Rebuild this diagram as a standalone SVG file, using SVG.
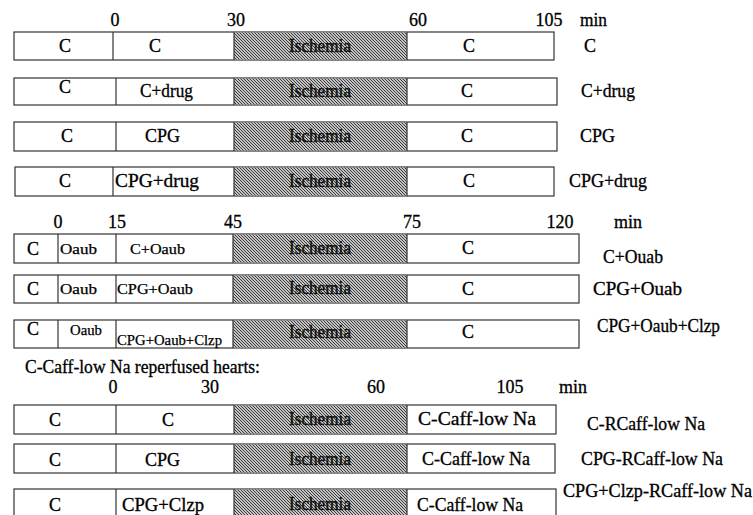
<svg xmlns="http://www.w3.org/2000/svg" width="753" height="515" viewBox="0 0 753 515">
<defs>
<pattern id="hatch" patternUnits="userSpaceOnUse" width="3" height="3">
<rect width="3" height="3" fill="#c4c4c4"/>
<path d="M0,0 L3,3 M-1,2 L1,4 M2,-1 L4,1" stroke="#2a2a2a" stroke-width="0.9"/>
</pattern>
<style>
.t{font-family:"Liberation Serif","Times New Roman",serif;font-size:18px;fill:#000;stroke:#000;stroke-width:0.3}
.s{font-family:"Liberation Serif","Times New Roman",serif;font-size:14.5px;fill:#000;stroke:#000;stroke-width:0.25}
.m{text-anchor:middle}
.box{fill:#fff;stroke:#333;stroke-width:1.2}
.isc{fill:url(#hatch);stroke:none}
.dv{stroke:#333;stroke-width:1.2}
.ii{font-family:"Liberation Serif","Times New Roman",serif;font-size:18px;fill:#111;stroke:#111;stroke-width:0.5;text-anchor:middle}
</style>
</defs>
<rect width="753" height="515" fill="#fff"/>

<g id="axis-1">
<text class="t m" x="115" y="26">0</text>
<text class="t m" x="236" y="26">30</text>
<text class="t m" x="418" y="26">60</text>
<text class="t m" x="549" y="26">105</text>
<text class="t" x="580" y="26" textLength="27" lengthAdjust="spacingAndGlyphs">min</text>
</g>

<g id="row-C">
<rect class="box" x="14" y="32" width="540" height="28"/>
<rect class="isc" x="234" y="32.6" width="173" height="26.8"/>
<line class="dv" x1="113" y1="32" x2="113" y2="60"/>
<line class="dv" x1="234" y1="32" x2="234" y2="60"/>
<line class="dv" x1="407" y1="32" x2="407" y2="60"/>
<text class="t m" x="65" y="52">C</text>
<text class="t m" x="155" y="52">C</text>
<text class="ii" x="320" y="52" textLength="62" lengthAdjust="spacingAndGlyphs">Ischemia</text>
<text class="t m" x="469" y="52">C</text>
<text class="t m" x="590" y="52">C</text>
</g>

<g id="row-C-drug">
<rect class="box" x="14" y="78" width="543" height="27"/>
<rect class="isc" x="234" y="78.6" width="173" height="25.8"/>
<line class="dv" x1="116" y1="78" x2="116" y2="105"/>
<line class="dv" x1="234" y1="78" x2="234" y2="105"/>
<line class="dv" x1="407" y1="78" x2="407" y2="105"/>
<text class="t m" x="65" y="93">C</text>
<text class="t" x="140" y="97" textLength="53" lengthAdjust="spacingAndGlyphs">C+drug</text>
<text class="ii" x="320" y="97" textLength="62" lengthAdjust="spacingAndGlyphs">Ischemia</text>
<text class="t m" x="467" y="97">C</text>
<text class="t" x="581" y="97" textLength="54" lengthAdjust="spacingAndGlyphs">C+drug</text>
</g>

<g id="row-CPG">
<rect class="box" x="14" y="122" width="543" height="29"/>
<rect class="isc" x="234" y="122.6" width="173" height="27.8"/>
<line class="dv" x1="116" y1="122" x2="116" y2="151"/>
<line class="dv" x1="234" y1="122" x2="234" y2="151"/>
<line class="dv" x1="407" y1="122" x2="407" y2="151"/>
<text class="t m" x="67" y="142">C</text>
<text class="t" x="145" y="142" textLength="35" lengthAdjust="spacingAndGlyphs">CPG</text>
<text class="ii" x="320" y="142" textLength="62" lengthAdjust="spacingAndGlyphs">Ischemia</text>
<text class="t m" x="467" y="142">C</text>
<text class="t" x="580" y="142" textLength="35" lengthAdjust="spacingAndGlyphs">CPG</text>
</g>

<g id="row-CPG-drug">
<rect class="box" x="15" y="167" width="539" height="29"/>
<rect class="isc" x="234" y="167.6" width="173" height="27.8"/>
<line class="dv" x1="113" y1="167" x2="113" y2="196"/>
<line class="dv" x1="234" y1="167" x2="234" y2="196"/>
<line class="dv" x1="407" y1="167" x2="407" y2="196"/>
<text class="t m" x="65" y="187">C</text>
<text class="t" x="115" y="187" textLength="84" lengthAdjust="spacingAndGlyphs">CPG+drug</text>
<text class="ii" x="320" y="187" textLength="62" lengthAdjust="spacingAndGlyphs">Ischemia</text>
<text class="t m" x="469" y="187">C</text>
<text class="t" x="569" y="187" textLength="78" lengthAdjust="spacingAndGlyphs">CPG+drug</text>
</g>

<g id="axis-2">
<text class="t m" x="58" y="228">0</text>
<text class="t m" x="117" y="228">15</text>
<text class="t m" x="233" y="228">45</text>
<text class="t m" x="412" y="228">75</text>
<text class="t m" x="560" y="228">120</text>
<text class="t m" x="628" y="228">min</text>
</g>

<g id="row-C-Ouab">
<rect class="box" x="14" y="234" width="565" height="29"/>
<rect class="isc" x="233" y="234.6" width="174" height="27.8"/>
<line class="dv" x1="58" y1="234" x2="58" y2="263"/>
<line class="dv" x1="116" y1="234" x2="116" y2="263"/>
<line class="dv" x1="233" y1="234" x2="233" y2="263"/>
<line class="dv" x1="407" y1="234" x2="407" y2="263"/>
<text class="t m" x="33" y="255">C</text>
<text class="s" x="60" y="254" textLength="37" lengthAdjust="spacingAndGlyphs">Oaub</text>
<text class="s" x="130" y="254" textLength="55" lengthAdjust="spacingAndGlyphs">C+Oaub</text>
<text class="ii" x="320" y="254" textLength="62" lengthAdjust="spacingAndGlyphs">Ischemia</text>
<text class="t m" x="468" y="254">C</text>
<text class="t" x="603" y="263" textLength="60" lengthAdjust="spacingAndGlyphs">C+Ouab</text>
</g>

<g id="row-CPG-Ouab">
<rect class="box" x="14" y="275" width="565" height="28"/>
<rect class="isc" x="233" y="275.6" width="174" height="26.8"/>
<line class="dv" x1="58" y1="275" x2="58" y2="303"/>
<line class="dv" x1="116" y1="275" x2="116" y2="303"/>
<line class="dv" x1="233" y1="275" x2="233" y2="303"/>
<line class="dv" x1="407" y1="275" x2="407" y2="303"/>
<text class="t m" x="33" y="295">C</text>
<text class="s" x="60" y="294" textLength="37" lengthAdjust="spacingAndGlyphs">Oaub</text>
<text class="s" x="117" y="294" textLength="76" lengthAdjust="spacingAndGlyphs">CPG+Oaub</text>
<text class="ii" x="320" y="294" textLength="62" lengthAdjust="spacingAndGlyphs">Ischemia</text>
<text class="t m" x="468" y="295">C</text>
<text class="t" x="593" y="295" textLength="89" lengthAdjust="spacingAndGlyphs">CPG+Ouab</text>
</g>

<g id="row-CPG-Ouab-Clzp">
<rect class="box" x="14" y="320" width="565" height="28"/>
<rect class="isc" x="233" y="320.6" width="174" height="26.8"/>
<line class="dv" x1="58" y1="320" x2="58" y2="348"/>
<line class="dv" x1="116" y1="320" x2="116" y2="348"/>
<line class="dv" x1="233" y1="320" x2="233" y2="348"/>
<line class="dv" x1="407" y1="320" x2="407" y2="348"/>
<text class="t m" x="33" y="335">C</text>
<text class="s" x="70" y="335" textLength="32" lengthAdjust="spacingAndGlyphs">Oaub</text>
<text class="s" x="117" y="345" textLength="105" lengthAdjust="spacingAndGlyphs">CPG+Oaub+Clzp</text>
<text class="ii" x="320" y="338" textLength="62" lengthAdjust="spacingAndGlyphs">Ischemia</text>
<text class="t m" x="468" y="338">C</text>
<text class="t" x="597" y="332" textLength="123" lengthAdjust="spacingAndGlyphs">CPG+Oaub+Clzp</text>
</g>

<g id="title-3">
<text class="t" x="25" y="373" textLength="235" lengthAdjust="spacingAndGlyphs">C-Caff-low Na reperfused hearts:</text>
</g>

<g id="axis-3">
<text class="t m" x="113" y="393">0</text>
<text class="t m" x="210" y="393">30</text>
<text class="t m" x="376" y="393">60</text>
<text class="t m" x="510" y="393">105</text>
<text class="t m" x="573" y="393">min</text>
</g>

<g id="row-C-RCaff">
<rect class="box" x="14" y="405" width="542" height="29"/>
<rect class="isc" x="234" y="405.6" width="173" height="27.8"/>
<line class="dv" x1="116" y1="405" x2="116" y2="434"/>
<line class="dv" x1="234" y1="405" x2="234" y2="434"/>
<line class="dv" x1="407" y1="405" x2="407" y2="434"/>
<text class="t m" x="55" y="426">C</text>
<text class="t m" x="168" y="426">C</text>
<text class="ii" x="320" y="425" textLength="62" lengthAdjust="spacingAndGlyphs">Ischemia</text>
<text class="t" x="418" y="425" textLength="118" lengthAdjust="spacingAndGlyphs">C-Caff-low Na</text>
<text class="t" x="587" y="430" textLength="118" lengthAdjust="spacingAndGlyphs">C-RCaff-low Na</text>
</g>

<g id="row-CPG-RCaff">
<rect class="box" x="14" y="444" width="541" height="29"/>
<rect class="isc" x="234" y="444.6" width="173" height="27.8"/>
<line class="dv" x1="116" y1="444" x2="116" y2="473"/>
<line class="dv" x1="234" y1="444" x2="234" y2="473"/>
<line class="dv" x1="407" y1="444" x2="407" y2="473"/>
<text class="t m" x="55" y="466">C</text>
<text class="t" x="145" y="466" textLength="35" lengthAdjust="spacingAndGlyphs">CPG</text>
<text class="ii" x="320" y="465" textLength="62" lengthAdjust="spacingAndGlyphs">Ischemia</text>
<text class="t" x="422" y="465" textLength="108" lengthAdjust="spacingAndGlyphs">C-Caff-low Na</text>
<text class="t" x="581" y="465" textLength="142" lengthAdjust="spacingAndGlyphs">CPG-RCaff-low Na</text>
</g>

<g id="row-CPG-Clzp-RCaff">
<rect class="box" x="14" y="489" width="542" height="30"/>
<rect class="isc" x="234" y="489.6" width="173" height="28.8"/>
<line class="dv" x1="116" y1="489" x2="116" y2="519"/>
<line class="dv" x1="234" y1="489" x2="234" y2="519"/>
<line class="dv" x1="407" y1="489" x2="407" y2="519"/>
<text class="t m" x="55" y="511">C</text>
<text class="t" x="122" y="511" textLength="82" lengthAdjust="spacingAndGlyphs">CPG+Clzp</text>
<text class="ii" x="320" y="510" textLength="62" lengthAdjust="spacingAndGlyphs">Ischemia</text>
<text class="t" x="417" y="511" textLength="106" lengthAdjust="spacingAndGlyphs">C-Caff-low Na</text>
<text class="t" x="563" y="497" textLength="189" lengthAdjust="spacingAndGlyphs">CPG+Clzp-RCaff-low Na</text>
</g>
</svg>
